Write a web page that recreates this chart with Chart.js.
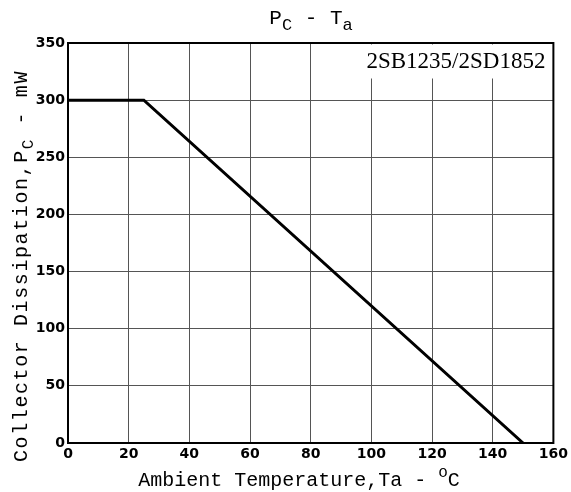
<!DOCTYPE html>
<html><head><meta charset="utf-8">
<script src="https://cdn.jsdelivr.net/npm/chart.js@4/dist/chart.umd.min.js"></script>
<style>html,body{margin:0;padding:0;background:#fff;}#wrap{width:571px;height:492px;}</style>
</head><body><div id="wrap"><canvas id="c" width="571" height="492"></canvas></div>
<script>
const temperatureC = [0, 25, 150];
const dissipationMW = [300, 300, 0];
const xTicks = [0, 20, 40, 60, 80, 100, 120, 140, 160];
const yTicks = [0, 50, 100, 150, 200, 250, 300, 350];
const partLabel = "2SB1235/2SD1852";

const MONO = '"Liberation Mono", "DejaVu Sans Mono", monospace';

function drawSub(ctx, parts, x, y, size, align) {
  // parts: [{t, mode:'n'|'sub'|'sup'}]
  let total = 0;
  const widths = parts.map(p => {
    ctx.font = (p.mode === 'n' ? size : Math.round(size*0.8)) + 'px ' + MONO;
    const w = ctx.measureText(p.t).width; total += w; return w;
  });
  let cx = align === 'center' ? x - total/2 : x;
  parts.forEach((p, i) => {
    ctx.font = (p.mode === 'n' ? size : Math.round(size*0.8)) + 'px ' + MONO;
    let dy = p.mode === 'sub' ? size*0.3 : (p.mode === 'sup' ? -size*0.45 : 0);
    ctx.fillText(p.t, cx, y + dy);
    cx += widths[i];
  });
}

const textPlugin = {
  id: 'texts',
  afterDraw(chart) {
    const ctx = chart.ctx; const a = chart.chartArea;
    ctx.save();
    ctx.fillStyle = '#000';
    ctx.textBaseline = 'alphabetic';
    ctx.textAlign = 'left';
    // title
    drawSub(ctx, [{t:'P',mode:'n'},{t:'C',mode:'sub'},{t:' - T',mode:'n'},{t:'a',mode:'sub'}], 311, 24, 21, 'center');
    // x title
    drawSub(ctx, [{t:'Ambient Temperature,Ta - ',mode:'n'},{t:'o',mode:'sup'},{t:'C',mode:'n'}], 299, 486, 20, 'center');
    // y title
    ctx.save();
    ctx.translate(27, 266);
    ctx.rotate(-Math.PI/2);
    ctx.letterSpacing = '1.6px';
    drawSub(ctx, [{t:'Collector Dissipation,P',mode:'n'},{t:'C',mode:'sub'},{t:' - mW',mode:'n'}], 0, 0, 20, 'center');
    ctx.restore();
    // part label box
    ctx.font = '23px "Liberation Serif", "DejaVu Serif", serif';
    const w = ctx.measureText(partLabel).width;
    ctx.fillStyle = '#fff';
    ctx.fillRect(a.right - w - 14, a.top + 1.5, w + 12, 34);
    ctx.fillStyle = '#000';
    ctx.fillText(partLabel, a.right - w - 8, a.top + 25);
    // frame
    ctx.strokeStyle = '#000'; ctx.lineWidth = 2;
    ctx.strokeRect(a.left, a.top, a.right - a.left, a.bottom - a.top);
    ctx.restore();
  }
};

new Chart(document.getElementById('c'), {
  type: 'line',
  data: {
    datasets: [{
      data: temperatureC.map((t, i) => ({x: t, y: dissipationMW[i]})),
      borderColor: '#000', borderWidth: 3, pointRadius: 0, tension: 0, fill: false
    }]
  },
  options: {
    responsive: false, animation: false, devicePixelRatio: 1,
    layout: { padding: { top: 43, right: 16, left: 0, bottom: 0 } },
    plugins: { legend: { display: false }, tooltip: { enabled: false } },
    scales: {
      x: {
        type: 'linear', min: 0, max: 160,
        afterBuildTicks(s) { s.ticks = xTicks.map(v => ({value: v})); },
        afterFit(s) { s.height = 49; },
        grid: { color: '#555', lineWidth: 1, drawTicks: false },
        border: { color: '#000', width: 2 },
        ticks: { color: '#000', padding: 3, maxRotation: 0, font: { family: '"DejaVu Sans", sans-serif', size: 14, weight: 'bold' } }
      },
      y: {
        type: 'linear', min: 0, max: 350,
        afterBuildTicks(s) { s.ticks = yTicks.map(v => ({value: v})); },
        afterFit(s) { s.width = 68; },
        grid: { color: '#555', lineWidth: 1, drawTicks: false },
        border: { color: '#000', width: 2 },
        ticks: { color: '#000', padding: 3, font: { family: '"DejaVu Sans", sans-serif', size: 14, weight: 'bold' } }
      }
    }
  },
  plugins: [textPlugin]
});
</script></body></html>
